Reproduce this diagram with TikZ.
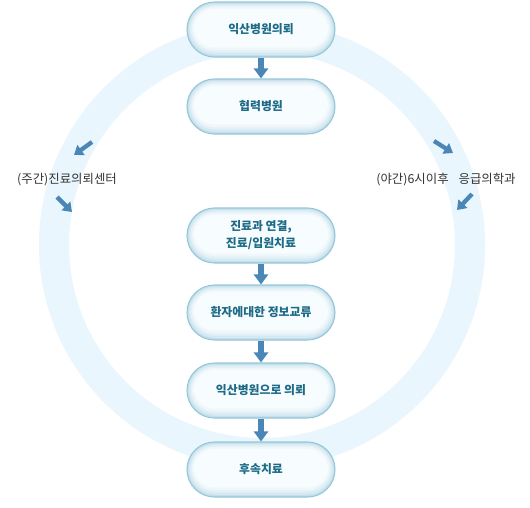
\documentclass[tikz,border=0pt]{standalone}
\usepackage{fontspec}
\setmainfont{Noto Sans CJK KR}
\usetikzlibrary{arrows.meta}
\definecolor{ringc}{HTML}{E9F6FD}
\definecolor{boxline}{HTML}{94C7DA}
\definecolor{boxtext}{HTML}{1E6B88}
\definecolor{arrowc}{HTML}{4A86B6}
\definecolor{sidetext}{HTML}{333333}
\definecolor{glowa}{HTML}{C5DFEA}
\definecolor{glowb}{HTML}{D5E9F2}
\definecolor{glowc}{HTML}{E3F1F7}
\definecolor{glowd}{HTML}{EFF7FB}
\definecolor{glowe}{HTML}{F7FCFE}
\tikzset{
  box/.style={minimum width=111pt, minimum height=41.25pt, rounded corners=20.6pt,
    draw=boxline, line width=0.8pt, fill=glowa, text=boxtext,
    font=\fontsize{8.9}{12.8}\selectfont\bfseries, align=center, inner sep=0pt,
    path picture={
      \foreach \d/\c in {1.2/glowb,2.4/glowc,3.6/glowd,5/glowe}{
        \fill[\c, rounded corners=20.6pt-\d pt]
          ([shift={(\d pt,-\d pt)}]path picture bounding box.north west)
          rectangle ([shift={(-\d pt,1.4*\d pt)}]path picture bounding box.south east);
      }
    }},
  side/.style={text=sidetext, font=\fontsize{9.3}{11}\selectfont, inner sep=0pt},
  darr/.style={draw=arrowc, line width=4pt, -{Triangle[width=10.5pt,length=7.5pt]}},
  sarr/.style={draw=arrowc, line width=3.2pt, -{Triangle[width=9pt,length=6.5pt]}},
  ringstyle/.style={draw=ringc, line width=22.5pt}
}
\begin{document}
\begin{tikzpicture}[x=0.75pt,y=-0.75pt]
\useasboundingbox (0,0) rectangle (530,507);
\fill[white] (0,0) rectangle (530,507);
\draw[ringstyle] (262,245) circle[radius=156pt];

\node[box] (b1) at (261,29.5) {익산병원의뢰};
\node[box] (b2) at (261,106.5) {협력병원};
\node[box] (b3) at (261,235.5) {진료과 연결,\\진료/입원치료};
\node[box] (b4) at (261,312.5) {환자에대한 정보교류};
\node[box] (b5) at (261,390.5) {익산병원으로 의뢰};
\node[box] (b6) at (261,469.5) {후속치료};

\draw[darr] (b1.south) -- (b2.north);
\draw[darr] (b3.south) -- (b4.north);
\draw[darr] (b4.south) -- (b5.north);
\draw[darr] (b5.south) -- (b6.north);

\node[side] (lt) at (67,180) {(주간)진료의뢰센터};
\node[side] (rt) at (446,180) {(야간)6시이후\hspace{0.8em}응급의학과};

\coordinate (l1s) at (92,142); \coordinate (l1e) at (74,155);
\coordinate (l2s) at (57,197); \coordinate (l2e) at (72,212);
\coordinate (r1s) at (434,141); \coordinate (r1e) at (453,153);
\coordinate (r2s) at (472,194); \coordinate (r2e) at (457,210);
\draw[sarr] (l1s) -- (l1e);
\draw[sarr] (l2s) -- (l2e);
\draw[sarr] (r1s) -- (r1e);
\draw[sarr] (r2s) -- (r2e);
\end{tikzpicture}
\end{document}
